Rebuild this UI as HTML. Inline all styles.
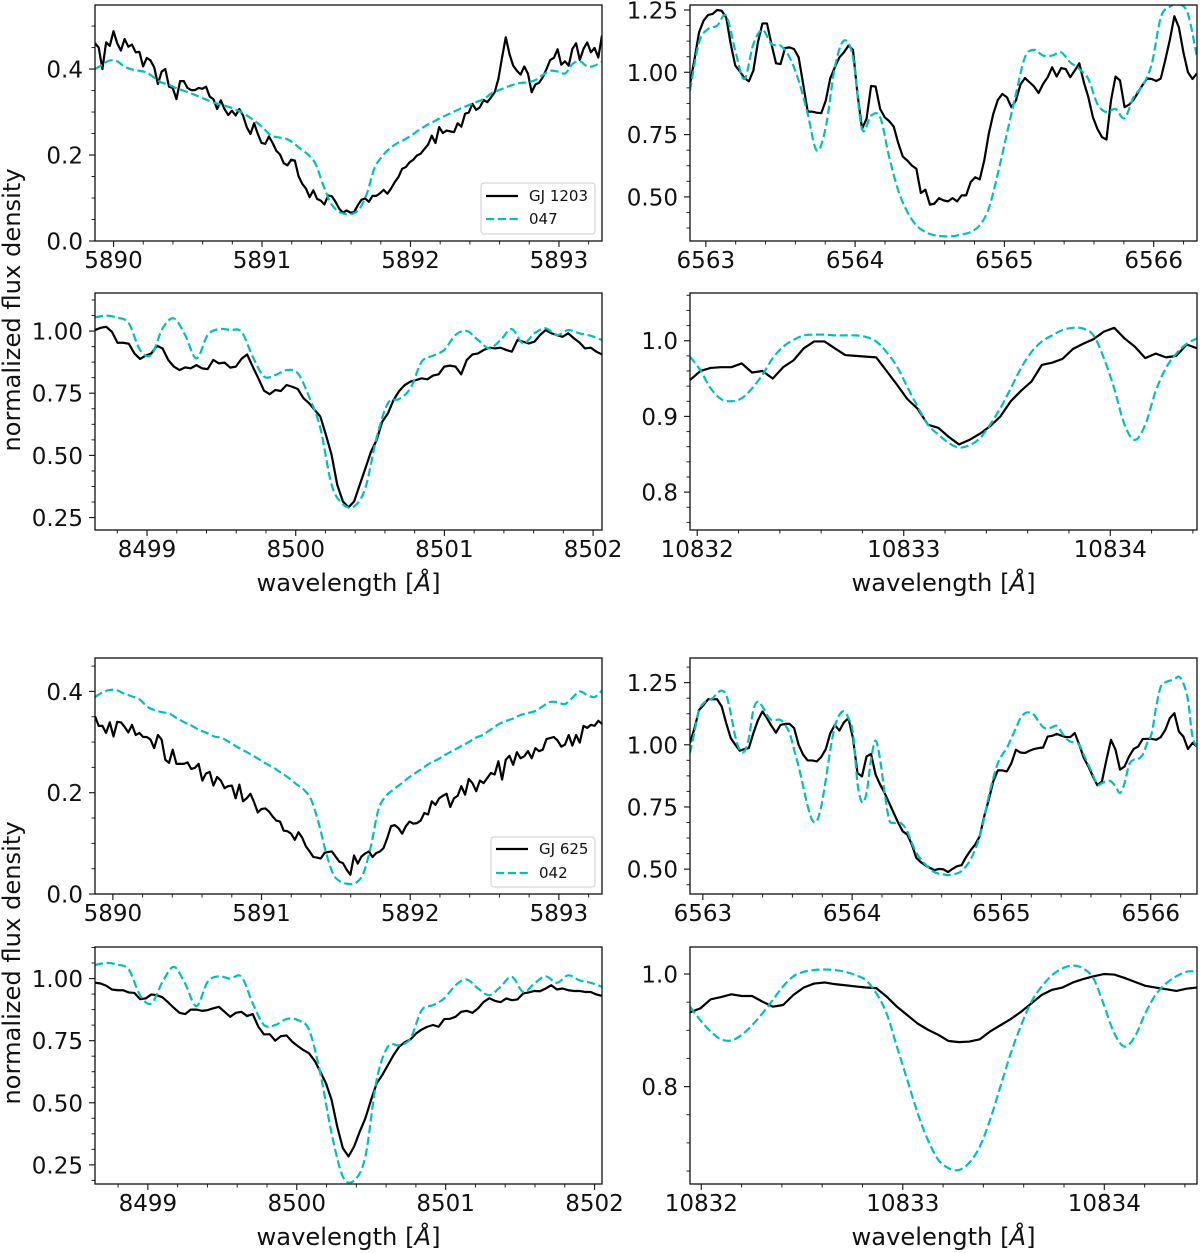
<!DOCTYPE html>
<html lang="en">
<head>
<meta charset="utf-8">
<title>Normalized flux density spectra</title>
<style>
html,body{margin:0;padding:0;background:#fff;}
svg{display:block;}
text{font-family:"DejaVu Sans","Liberation Sans",sans-serif;fill:#111;}
</style>
</head>
<body>
<svg id="chart" xmlns="http://www.w3.org/2000/svg" width="1200" height="1253" viewBox="0 0 1200 1253"></svg>
<script>
// Panel A: Na D, GJ 1203 vs 047
const naTopStar = [.46,.45,.4,.462,.454,.488,.46,.443,.47,.452,.457,.439,.44,.406,.426,.42,.404,.365,.394,.4,.359,.356,.33,.372,.372,.356,.351,.351,.356,.354,.359,.336,.33,.307,.327,.307,.293,.303,.292,.307,.292,.265,.249,.274,.249,.228,.226,.243,.228,.21,.201,.181,.176,.189,.187,.151,.133,.122,.102,.118,.098,.094,.085,.106,.104,.091,.075,.066,.071,.066,.067,.083,.096,.099,.091,.105,.105,.111,.119,.11,.122,.137,.149,.168,.172,.183,.189,.199,.203,.214,.224,.245,.228,.265,.251,.257,.255,.253,.274,.266,.296,.299,.319,.305,.311,.328,.323,.334,.346,.377,.427,.474,.435,.408,.396,.387,.406,.389,.346,.364,.368,.381,.4,.421,.426,.446,.41,.418,.408,.447,.46,.421,.447,.462,.439,.449,.427,.478];
const naTopModel = [.4,.41,.42,.418,.406,.399,.396,.392,.381,.369,.364,.356,.35,.344,.337,.33,.323,.318,.313,.307,.299,.288,.276,.261,.245,.241,.238,.228,.214,.201,.18,.133,.091,.07,.063,.063,.075,.11,.168,.195,.214,.226,.235,.245,.257,.268,.277,.286,.294,.302,.31,.317,.324,.331,.344,.351,.358,.364,.368,.369,.375,.387,.396,.394,.39,.412,.418,.406,.408,.417];
// Panel B: H-alpha, GJ 1203 vs 047
const haTopStar = [.953,1.053,1.16,1.207,1.23,1.234,1.25,1.247,1.22,1.113,1.027,1.004,.977,.964,1.007,1.12,1.196,1.196,1.113,1.036,1.033,1.097,1.1,1.093,1.06,.953,.842,.842,.838,.836,.887,.977,1.02,1.06,1.08,1.107,1.09,.913,.773,.813,.945,.943,.853,.82,.804,.782,.716,.662,.646,.626,.613,.515,.529,.469,.473,.495,.486,.482,.495,.482,.506,.506,.559,.579,.57,.646,.753,.833,.889,.913,.9,.86,.887,.951,.977,.96,.943,.917,.953,.98,1.02,.983,1.017,1.013,.98,1.007,1.036,.96,.9,.82,.773,.74,.73,.887,.983,.967,.86,.87,.89,.92,.95,.975,.973,.965,.975,1.05,1.13,1.225,1.18,1.08,1,.973,.996];
const haTopModel = [.927,1.12,1.174,1.187,1.227,1.087,.973,1.113,1.17,1.113,1.107,1.06,.967,.833,.686,.78,1.02,1.127,1.06,.773,.826,.82,.66,.526,.44,.386,.359,.346,.342,.342,.349,.359,.386,.453,.593,.753,.913,1.06,1.09,1.067,1.067,1.08,1.04,1.013,.973,.873,.84,.853,.816,.9,.947,1.033,1.22,1.263,1.274,1.234,1.06];
// Panel C: Ca II, GJ 1203 vs 047
const caTopStar = [1.004,1.013,1.017,.997,.953,.953,.949,.91,.888,.901,.91,.941,.93,.884,.857,.843,.854,.85,.863,.85,.847,.884,.87,.873,.853,.857,.888,.906,.857,.81,.76,.746,.763,.759,.783,.776,.767,.73,.71,.683,.656,.582,.502,.382,.315,.291,.315,.382,.448,.515,.562,.636,.669,.723,.759,.783,.797,.803,.81,.806,.821,.826,.857,.861,.857,.826,.884,.906,.91,.924,.933,.93,.933,.924,.917,.964,.957,.95,.957,.984,1.004,.991,.984,.977,.991,.971,.954,.93,.933,.917,.906];
const caTopModel = [1.055,1.062,1.054,1.031,.924,.904,1.011,1.051,.984,.89,.984,1.008,1.004,.997,.897,.817,.823,.843,.83,.736,.61,.382,.304,.295,.369,.572,.71,.727,.77,.877,.901,.924,.984,1,.964,.93,.964,1.008,.95,.991,1.011,.984,1.004,.991,.981,.964];
// Panel D: He I, GJ 1203 vs 047
const heTopStar = [.948,.96,.964,.965,.965,.97,.958,.96,.95,.965,.974,.99,.999,.999,.99,.981,.98,.979,.978,.96,.942,.923,.91,.889,.885,.873,.863,.869,.877,.887,.9,.92,.934,.946,.968,.971,.976,.989,.996,1.002,1.012,1.017,1.003,.992,.977,.983,.978,.98,.995,.99];
const heTopModel = [.979,.961,.937,.923,.92,.924,.937,.955,.977,.992,1.001,1.007,1.008,1.008,1.007,1.007,1.007,1.005,.999,.985,.966,.939,.913,.889,.876,.865,.859,.862,.871,.889,.911,.937,.964,.985,.999,1.007,1.014,1.017,1.016,1.007,.977,.937,.889,.869,.889,.933,.964,.983,.996,1.003];
// Panel E: Na D, GJ 625 vs 042
const naBottomStar = [.351,.332,.332,.318,.339,.311,.34,.339,.33,.319,.334,.314,.318,.31,.31,.305,.288,.314,.305,.265,.259,.285,.257,.257,.257,.26,.247,.249,.257,.224,.238,.241,.214,.231,.224,.209,.213,.214,.189,.216,.183,.189,.198,.181,.161,.168,.169,.163,.153,.145,.143,.125,.124,.119,.107,.122,.111,.094,.084,.073,.072,.07,.081,.083,.084,.074,.064,.061,.048,.038,.076,.06,.074,.08,.084,.073,.081,.084,.091,.111,.134,.136,.13,.119,.134,.143,.139,.14,.145,.16,.157,.183,.176,.189,.194,.198,.172,.189,.194,.213,.196,.227,.219,.203,.224,.219,.229,.239,.236,.262,.226,.265,.273,.255,.28,.268,.272,.282,.268,.288,.282,.285,.306,.308,.31,.303,.291,.295,.314,.293,.314,.299,.332,.328,.334,.332,.342,.336];
const naBottomModel = [.389,.398,.403,.402,.395,.39,.384,.37,.363,.359,.356,.347,.339,.332,.324,.318,.311,.308,.3,.291,.283,.275,.266,.257,.249,.239,.229,.217,.206,.186,.14,.081,.038,.024,.02,.022,.041,.094,.166,.193,.206,.217,.229,.239,.249,.259,.266,.275,.283,.291,.299,.308,.314,.324,.334,.341,.346,.353,.357,.361,.37,.379,.379,.375,.387,.4,.393,.389,.402];
// Panel F: H-alpha, GJ 625 vs 042
const haBottomStar = [1.007,1.067,1.14,1.16,1.183,1.183,1.183,1.154,1.087,1.027,1,.976,.983,.987,1.047,1.098,1.134,1.107,1.076,1.049,1.08,1.084,1.084,1.067,1,.96,.937,.937,.933,.951,.983,1.047,1.08,1.057,1.09,1.107,1.027,.886,.873,.953,.963,.88,.84,.806,.766,.726,.686,.652,.639,.599,.545,.528,.515,.505,.496,.501,.499,.488,.501,.512,.516,.549,.576,.599,.632,.713,.779,.853,.897,.897,.893,.926,.98,.969,.967,.976,.983,.987,.989,1.033,1.036,1.044,1.037,1.031,1.031,1.047,1,.947,.913,.873,.837,.853,.94,1.02,.98,.9,.913,.953,.983,.993,1.023,1.024,1.024,1.02,1.031,1.06,1.107,1.127,1.053,1.033,.983,1.007,.993];
const haBottomModel = [.967,1.053,1.14,1.167,1.18,1.187,1.207,1.218,1.2,1.127,1.033,.98,.973,1.027,1.14,1.174,1.154,1.12,1.1,1.1,1.1,1.08,1.047,.98,.913,.833,.753,.697,.693,.753,.86,.98,1.074,1.12,1.134,1.107,1.047,.846,.769,.806,.94,1.017,.94,.806,.699,.686,.688,.679,.652,.606,.566,.539,.519,.501,.488,.481,.479,.476,.479,.483,.492,.512,.539,.579,.632,.706,.793,.866,.926,.96,.987,1.027,1.067,1.107,1.127,1.13,1.12,1.094,1.071,1.064,1.071,1.076,1.053,1.027,1.013,1.009,1,.96,.92,.88,.84,.846,.853,.853,.833,.806,.846,.92,.94,.943,.96,1.007,1.047,1.154,1.234,1.251,1.258,1.263,1.274,1.247,1.18,1.033,.993];
// Panel G: Ca II, GJ 625 vs 042
const caBottomStar = [.983,.98,.971,.956,.953,.953,.944,.942,.917,.92,.936,.933,.924,.904,.882,.862,.857,.875,.875,.87,.873,.88,.886,.866,.846,.862,.866,.849,.857,.806,.775,.776,.75,.768,.771,.746,.728,.712,.699,.669,.625,.578,.511,.404,.317,.284,.324,.384,.438,.511,.578,.612,.652,.692,.726,.744,.755,.779,.795,.806,.813,.806,.837,.838,.846,.866,.87,.862,.88,.906,.921,.91,.905,.92,.913,.916,.94,.944,.95,.949,.96,.973,.956,.96,.953,.95,.95,.946,.946,.936,.93];
const caBottomModel = [1.054,1.063,1.056,1.036,.933,.9,.987,1.047,.98,.889,.987,1.009,1,1.007,.9,.813,.813,.837,.833,.793,.618,.377,.203,.187,.284,.592,.726,.732,.759,.873,.893,.92,.973,.996,.96,.933,.967,1.007,.946,.98,1.009,.983,1.013,.993,.983,.967];
// Panel H: He I, GJ 625 vs 042
const heBottomStar = [.932,.939,.955,.959,.964,.961,.961,.951,.942,.945,.963,.976,.983,.985,.982,.98,.978,.976,.975,.96,.942,.927,.912,.901,.892,.881,.879,.88,.884,.898,.909,.92,.933,.948,.963,.972,.976,.985,.991,.996,1,.999,.993,.986,.979,.976,.973,.97,.974,.976];
const heBottomModel = [.942,.918,.898,.884,.882,.892,.909,.93,.954,.978,.996,1.004,1.007,1.008,1.007,1.004,.998,.989,.966,.93,.871,.812,.753,.705,.67,.655,.652,.665,.693,.741,.8,.859,.909,.951,.978,.998,1.01,1.015,1.01,.992,.945,.895,.871,.889,.93,.963,.983,.996,1.004,1.005];

// Tick labels
const naWaveTicks = ['5890','5891','5892','5893'];
const haWaveTicks = ['6563','6564','6565','6566'];
const caWaveTicks = ['8499','8500','8501','8502'];
const heWaveTicks = ['10832','10833','10834'];
const naFluxTicks = ['0.0','0.2','0.4'];
const haFluxTicks = ['0.50','0.75','1.00','1.25'];
const caFluxTicks = ['0.25','0.50','0.75','1.00'];
const heTopFluxTicks = ['0.8','0.9','1.0'];
const heBottomFluxTicks = ['0.8','1.0'];

const panelList = [
 {id:'na-gj-1203',box:[95,5,602,241],xr:[5889.875,5893.29],yr:[0,.549],star:naTopStar,model:naTopModel,xt:naWaveTicks,yt:naFluxTicks,ym:.05,xlabel:false},
 {id:'halpha-gj-1203',box:[690,5,1197,241],xr:[6562.894,6566.29],yr:[.323,1.27],star:haTopStar,model:haTopModel,xt:haWaveTicks,yt:haFluxTicks,ym:.0625,xlabel:false},
 {id:'ca-gj-1203',box:[95,293,602,530],xr:[8498.65,8502.06],yr:[.2,1.153],star:caTopStar,model:caTopModel,xt:caWaveTicks,yt:caFluxTicks,ym:.0625,xlabel:true},
 {id:'he-gj-1203',box:[690,293,1197,530],xr:[10831.965,10834.42],yr:[.75,1.063],star:heTopStar,model:heTopModel,xt:heWaveTicks,yt:heTopFluxTicks,ym:.02,xlabel:true},
 {id:'na-gj-625',box:[95,658,602,894],xr:[5889.88,5893.29],yr:[0,.466],star:naBottomStar,model:naBottomModel,xt:naWaveTicks,yt:naFluxTicks,ym:.05,xlabel:false},
 {id:'halpha-gj-625',box:[690,658,1197,894],xr:[6562.914,6566.31],yr:[.4,1.349],star:haBottomStar,model:haBottomModel,xt:haWaveTicks,yt:haFluxTicks,ym:.0625,xlabel:false},
 {id:'ca-gj-625',box:[95,947,602,1184],xr:[8498.645,8502.05],yr:[.173,1.127],star:caBottomStar,model:caBottomModel,xt:caWaveTicks,yt:caFluxTicks,ym:.0625,xlabel:true},
 {id:'he-gj-625',box:[690,947,1197,1184],xr:[10831.944,10834.46],yr:[.627,1.048],star:heBottomStar,model:heBottomModel,xt:heWaveTicks,yt:heBottomFluxTicks,ym:.05,xlabel:true}
];

const NS = 'http://www.w3.org/2000/svg';
const svg = document.getElementById('chart');
const BLACK = '#000000';
const CYAN = '#00bfbf';
const TICK_FONT = 23;
const TITLE_FONT = 24.2;

function mk(tag, parent, props){
  const el = document.createElementNS(NS, tag);
  for (const k in props) el.setAttribute(k, props[k]);
  parent.appendChild(el);
  return el;
}

function drawSeries(parent, values, xr, xs, ys, stroke, dash, smooth, name){
  const pts = values.map(function(v, i){
    const w = xr[0] + i * (xr[1] - xr[0]) / (values.length - 1);
    return [xs(w), ys(v)];
  });
  let d = 'M' + pts[0][0].toFixed(2) + ' ' + pts[0][1].toFixed(2);
  for (let i = 1; i < pts.length; i++) {
    if (smooth) {
      const p0 = pts[Math.max(i - 2, 0)], p1 = pts[i - 1], p2 = pts[i], p3 = pts[Math.min(i + 1, pts.length - 1)];
      const c1x = p1[0] + (p2[0] - p0[0]) / 6, c1y = p1[1] + (p2[1] - p0[1]) / 6;
      const c2x = p2[0] - (p3[0] - p1[0]) / 6, c2y = p2[1] - (p3[1] - p1[1]) / 6;
      d += 'C' + c1x.toFixed(2) + ' ' + c1y.toFixed(2) + ' ' + c2x.toFixed(2) + ' ' + c2y.toFixed(2) + ' ' + p2[0].toFixed(2) + ' ' + p2[1].toFixed(2);
    } else {
      d += 'L' + pts[i][0].toFixed(2) + ' ' + pts[i][1].toFixed(2);
    }
  }
  const line = mk('path', parent, {d:d, fill:'none', stroke:stroke, 'stroke-width':2.2, 'stroke-linejoin':'round'});
  if (dash) line.setAttribute('stroke-dasharray', dash);
  
  
}

panelList.forEach(function(p, idx){
  const x0 = p.box[0], y0 = p.box[1], x1 = p.box[2], y1 = p.box[3];
  const xs = function(w){ return x0 + (w - p.xr[0]) / (p.xr[1] - p.xr[0]) * (x1 - x0); };
  const ys = function(f){ return y1 - (f - p.yr[0]) / (p.yr[1] - p.yr[0]) * (y1 - y0); };

  const g = mk('g', svg, {});
  
  

  const defs = mk('defs', g, {});
  const clip = mk('clipPath', defs, {id:'clip' + idx});
  mk('rect', clip, {x:x0, y:y0, width:x1 - x0, height:y1 - y0});

  const plot = mk('g', g, {'clip-path':'url(#clip' + idx + ')'});
  
  
  drawSeries(plot, p.star, p.xr, xs, ys, BLACK, null, false, 'observed-spectrum-line');
  drawSeries(plot, p.model, p.xr, xs, ys, CYAN, '8.2 3.6', true, 'model-spectrum-line');

  // x ticks
  const xMajor = p.xt.map(Number);
  for (let w = xMajor[0] - 1; w <= xMajor[xMajor.length - 1] + 1.001; w += 0.2) {
    const rounded = Math.round(w * 10) / 10;
    if (rounded < p.xr[0] || rounded > p.xr[1]) continue;
    if (Math.abs(rounded - Math.round(rounded)) < 1e-6) continue;
    const t = mk('line', g, {x1:xs(rounded), x2:xs(rounded), y1:y1, y2:y1 + 3.5, stroke:'#222', 'stroke-width':1});
    
    
  }
  p.xt.forEach(function(lab){
    const w = Number(lab);
    const t = mk('line', g, {x1:xs(w), x2:xs(w), y1:y1, y2:y1 + 6, stroke:'#222', 'stroke-width':1.2});
    
    
    const tx = mk('text', g, {x:xs(w), y:y1 + 27, 'text-anchor':'middle', 'font-size':TICK_FONT});
    tx.textContent = lab;
    
    
  });

  // y ticks
  const yMajor = p.yt.map(Number);
  const yBase = yMajor[0];
  for (let k = -12; k <= 40; k++) {
    const f = yBase + k * p.ym;
    if (f < p.yr[0] || f > p.yr[1]) continue;
    if (yMajor.some(function(m){ return Math.abs(m - f) < 1e-6; })) continue;
    const t = mk('line', g, {x1:x0 - 3.5, x2:x0, y1:ys(f), y2:ys(f), stroke:'#222', 'stroke-width':1});
    
    
  }
  p.yt.forEach(function(lab){
    const f = Number(lab);
    const t = mk('line', g, {x1:x0 - 6, x2:x0, y1:ys(f), y2:ys(f), stroke:'#222', 'stroke-width':1.2});
    
    
    const tx = mk('text', g, {x:x0 - 12, y:ys(f) + 8.5, 'text-anchor':'end', 'font-size':TICK_FONT});
    tx.textContent = lab;
    
    
  });

  const frame = mk('rect', g, {x:x0, y:y0, width:x1 - x0, height:y1 - y0, fill:'none', stroke:'#111', 'stroke-width':1.3});
  
  

  if (p.xlabel) {
    const xl = mk('text', g, {x:(x0 + x1) / 2, y:y1 + 61, 'text-anchor':'middle', 'font-size':TITLE_FONT});
    xl.textContent = 'wavelength [';
    const italic = mk('tspan', xl, {'font-style':'italic'});
    italic.textContent = 'Å';
    const close = mk('tspan', xl, {});
    close.textContent = ']';
    
    
  }
});

// y axis titles
[310, 963].forEach(function(cy){
  const yl = mk('text', svg, {x:0, y:0, transform:'translate(20 ' + cy + ') rotate(-90)', 'text-anchor':'middle', 'font-size':TITLE_FONT});
  yl.textContent = 'normalized flux density';
  
  
});

// legends
function drawLegend(box, lineX, textX, y1, y2, starLabel, modelLabel){
  const g = mk('g', svg, {});
  
  
  const r = mk('rect', g, {x:box[0], y:box[1], width:box[2], height:box[3], rx:3, fill:'#fff', 'fill-opacity':.85, stroke:'#d5d5d5', 'stroke-width':1.2});
  
  
  const a = mk('line', g, {x1:lineX, x2:lineX + 32, y1:y1, y2:y1, stroke:BLACK, 'stroke-width':2.2});
  
  
  const b = mk('line', g, {x1:lineX, x2:lineX + 32, y1:y2, y2:y2, stroke:CYAN, 'stroke-width':2.2, 'stroke-dasharray':'8.2 3.6'});
  
  
  const t1 = mk('text', g, {x:textX, y:y1 + 5, 'font-size':15});
  t1.textContent = starLabel;
  
  
  const t2 = mk('text', g, {x:textX, y:y2 + 5, 'font-size':15});
  t2.textContent = modelLabel;
  
  
}
drawLegend([481,183,114,51], 486, 529, 196, 219, 'GJ 1203', '047');
drawLegend([491,837,104,50], 496, 539, 849, 873, 'GJ 625', '042');
</script>
</body>
</html>
